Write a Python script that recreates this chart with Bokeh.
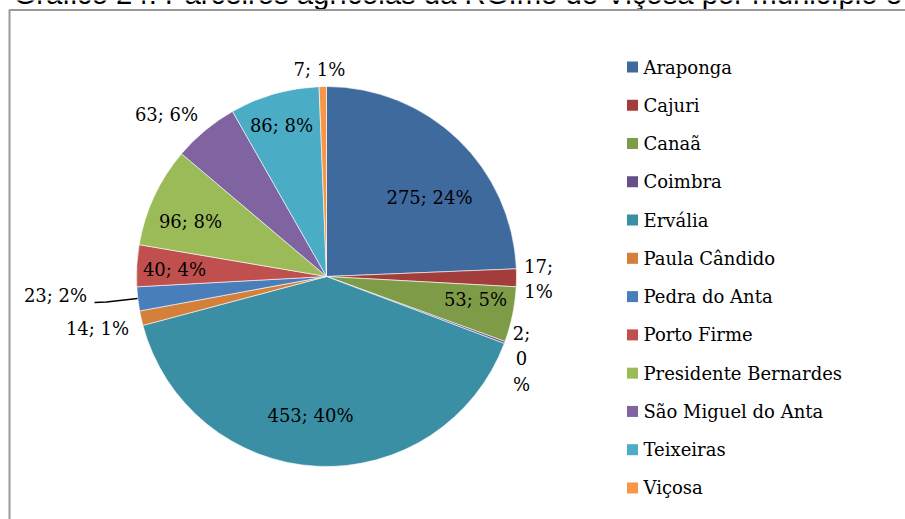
import math
from bokeh.plotting import figure
from bokeh.models import Range1d, ColumnDataSource
from bokeh.core.properties import value
from bokeh.embed import file_html
from bokeh.resources import INLINE

# ---- data ----
title = "Gráfico 24: Parceiros agrícolas da RGIme de Viçosa por município e"
categories = ["Araponga", "Cajuri", "Canaã", "Coimbra", "Ervália", "Paula Cândido",
              "Pedra do Anta", "Porto Firme", "Presidente Bernardes",
              "São Miguel do Anta", "Teixeiras", "Viçosa"]
counts = [275, 17, 53, 2, 453, 14, 23, 40, 96, 63, 86, 7]
percents = [24, 1, 5, 0, 40, 1, 2, 4, 8, 6, 8, 1]
colors = ["#3F6A9E", "#A33D3B", "#7E9C48", "#664F88", "#3B8FA5", "#D4803A",
          "#4A7EBB", "#C0504D", "#9BBB59", "#8064A2", "#4BACC6", "#F79646"]

W, H = 905, 519
FS = 18            # label font size (px)
BSHIFT = 0.36      # empirical correction of text baseline (em)


def X(xr):
    return xr


def Y(yr):
    return H - yr


def YT(yr, fs=FS):
    # text baseline correction
    return H - (yr - BSHIFT * fs)


p = figure(width=W, height=H, output_backend="svg", toolbar_location=None,
           x_range=Range1d(0, W), y_range=Range1d(0, H), min_border=0)
p.axis.visible = False
p.grid.visible = False
p.outline_line_color = None
p.background_fill_color = "white"

# title (cut off at the top of the picture)
TFS = 29.3
p.text(x=[X(13)], y=[YT(4, TFS)], text=[title], text_font=value("Liberation Sans"),
       text_font_size=f"{TFS}px", text_align="left", text_baseline="alphabetic",
       text_color="black")

# chart area border (left and top visible)
p.line(x=[X(9), X(9), W + 5], y=[-5, Y(9.5), Y(9.5)],
       line_color="#999999", line_width=2)

# ---- pie ----
cx, cy, r = X(326), Y(276), 190
total = sum(counts)
starts, ends = [], []
cum = 0
for v in counts:
    starts.append(math.pi / 2 - 2 * math.pi * cum / total)
    cum += v
    ends.append(math.pi / 2 - 2 * math.pi * cum / total)

src = ColumnDataSource(dict(start=starts, end=ends, color=colors, cat=categories))
p.wedge(x=cx, y=cy, radius=r, start_angle="start", end_angle="end",
        direction="clock", fill_color="color", line_color="white",
        line_width=0.6, source=src)

# ---- data labels (positions in reference pixels: center x, baseline y) ----
font = value("DejaVu Serif")
label_pos = {
    0: [(429, 203)],
    1: [(538, 272), (538, 297)],
    2: [(475, 305)],
    3: [(521, 339), (521, 364), (521, 390)],
    4: [(310, 421)],
    5: [(97, 334)],
    6: [(55, 301)],
    7: [(174, 275)],
    8: [(190, 227)],
    9: [(166, 120)],
    10: [(281, 131)],
    11: [(319, 75)],
}
lx, ly, lt = [], [], []
for i, (c, pc) in enumerate(zip(counts, percents)):
    full = f"{c}; {pc}%"
    pos = label_pos[i]
    if len(pos) == 1:
        parts = [full]
    elif len(pos) == 2:
        parts = [f"{c};", f"{pc}%"]
    else:
        parts = [f"{c};", f"{pc}", "%"]
    for (xr, yr), t in zip(pos, parts):
        lx.append(X(xr))
        ly.append(YT(yr))
        lt.append(t)
p.text(x=lx, y=ly, text=lt, text_font=font, text_font_size=f"{FS}px",
       text_align="center", text_baseline="alphabetic", text_color="black")

# leader line for Pedra do Anta
p.line(x=[X(94), X(106), X(137)], y=[Y(302), Y(301.5), Y(298)],
       line_color="black", line_width=1.3)

# ---- legend ----
leg_y0, leg_dy = 66.5, 38.27
sq_x = [X(632) for _ in categories]
sq_y = [Y(leg_y0 + i * leg_dy) for i in range(len(categories))]
p.rect(x=sq_x, y=sq_y, width=11, height=11, fill_color=colors, line_color=None)
p.text(x=[X(643)] * len(categories),
       y=[YT(leg_y0 + i * leg_dy + 6.5) for i in range(len(categories))],
       text=categories, text_font=font, text_font_size=f"{FS}px",
       text_align="left", text_baseline="alphabetic", text_color="black")

open("out.html", "w").write(file_html(p, INLINE))
